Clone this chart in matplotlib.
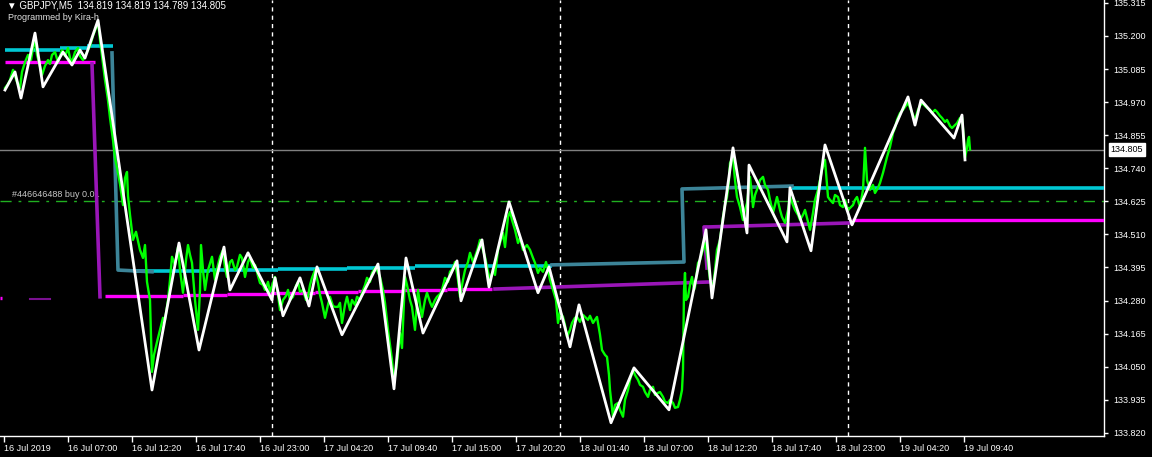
import numpy as np
import pandas as pd
import matplotlib
matplotlib.use('Agg')
import matplotlib.pyplot as plt

# GBPJPY M5, bar 0 = 16 Jul 2019 01:40
start = pd.Timestamp('2019-07-16 01:40')
n_bars_view = 1100

# close prices (bar index, price)
close_idx = [1, 4, 6, 9, 11, 13, 16, 18, 21, 24, 27, 29, 31, 33, 35, 38, 41, 44, 46, 48, 51, 54, 56, 58, 61, 64, 66, 68,
             71, 74, 76, 79, 82, 84, 86, 89, 92, 94, 96, 98, 101, 104, 106, 109, 111, 113, 116, 119, 121, 123, 124,
             126, 129, 132, 136, 139, 141, 143, 146, 148, 150, 153, 156, 159, 161, 164, 166, 168, 171, 174, 176, 179,
             182, 184, 186, 188, 191, 194, 196, 197, 199, 201, 204, 208, 211, 214, 216, 219, 221, 223, 226, 228, 231,
             233, 236, 238, 241, 244, 246, 249, 251, 254, 256, 259, 261, 264, 266, 269, 271, 274, 276, 279, 282, 284,
             286, 289, 292, 294, 296, 299, 302, 304, 306, 308, 311, 314, 316, 318, 321, 324, 326, 329, 331, 334, 336,
             338, 341, 343, 346, 348, 351, 353, 356, 358, 361, 363, 366, 368, 371, 373, 376, 379, 381, 384, 386, 388,
             390, 393, 396, 398, 401, 403, 404, 406, 408, 411, 414, 416, 418, 421, 423, 426, 428, 431, 433, 436, 438,
             441, 444, 446, 449, 451, 454, 456, 459, 461, 464, 466, 469, 471, 474, 476, 479, 481, 484, 486, 489, 491,
             494, 496, 499, 501, 504, 506, 508, 511, 514, 516, 519, 523, 526, 529, 531, 534, 536, 539, 542, 544, 546,
             549, 552, 554, 556, 559, 561, 563, 566, 568, 571, 573, 576, 579, 582, 584, 586, 589, 591, 593, 596, 598,
             601, 603, 605, 606, 609, 611, 614, 616, 619, 621, 624, 626, 629, 631, 634, 636, 639, 641, 644, 646, 649,
             651, 654, 656, 659, 661, 664, 666, 669, 671, 674, 676, 678, 679, 680, 681, 682, 684, 686, 688, 690, 691,
             694, 696, 698, 701, 703, 704, 706, 709, 711, 713, 716, 719, 721, 723, 725, 726, 729, 731, 733, 736, 739,
             741, 743, 746, 748, 749, 751, 754, 756, 759, 761, 764, 766, 769, 771, 773, 776, 778, 781, 784, 786, 789,
             791, 794, 796, 799, 801, 804, 806, 809, 811, 814, 816, 818, 821, 824, 826, 829, 831, 834, 836, 839, 841,
             844, 846, 849, 851, 853, 856, 859, 861, 863, 866, 869, 871, 874, 876, 879, 881, 883, 886, 889, 891, 893,
             896, 899, 901, 904, 906, 908, 911, 914, 916, 918, 921, 923, 926, 928, 931, 933, 936, 938, 941, 943, 946,
             948, 951, 953, 956, 958, 960, 961, 963, 964, 965, 966]
close_px = [135.019, 135.033, 135.047, 135.082, 135.061, 135.040, 135.019, 135.075, 135.109, 135.134, 135.116, 135.158,
            135.186, 135.134, 135.109, 135.064, 135.096, 135.116, 135.103, 135.134, 135.144, 135.109, 135.130, 135.151,
            135.130, 135.158, 135.123, 135.109, 135.144, 135.158, 135.130, 135.116, 135.137, 135.151, 135.165, 135.200,
            135.228, 135.249, 135.186, 135.130, 135.047, 134.977, 134.915, 134.838, 134.776, 134.741, 134.685, 134.612,
            134.706, 134.727, 134.644, 134.578, 134.491, 134.519, 134.456, 134.428, 134.473, 134.345, 134.282, 134.032,
            134.091, 134.136, 134.178, 134.220, 134.213, 134.282, 134.352, 134.432, 134.404, 134.466, 134.386, 134.307,
            134.421, 134.473, 134.439, 134.411, 134.282, 134.178, 134.317, 134.473, 134.386, 134.317, 134.386, 134.432,
            134.352, 134.404, 134.432, 134.456, 134.393, 134.362, 134.414, 134.421, 134.386, 134.397, 134.439, 134.428,
            134.362, 134.414, 134.428, 134.393, 134.404, 134.366, 134.341, 134.334, 134.317, 134.345, 134.310, 134.341,
            134.362, 134.300, 134.247, 134.282, 134.296, 134.317, 134.282, 134.293, 134.331, 134.345, 134.310, 134.317,
            134.282, 134.293, 134.334, 134.359, 134.386, 134.341, 134.300, 134.272, 134.220, 134.265, 134.293, 134.261,
            134.258, 134.258, 134.272, 134.202, 134.265, 134.293, 134.247, 134.282, 134.265, 134.293, 134.282, 134.307,
            134.334, 134.359, 134.345, 134.376, 134.393, 134.386, 134.362, 134.317, 134.272, 134.178, 134.126, 134.074,
            133.994, 134.063, 134.167, 134.115, 134.362, 134.334, 134.317, 134.282, 134.258, 134.178, 134.317, 134.265,
            134.223, 134.282, 134.307, 134.275, 134.258, 134.282, 134.293, 134.303, 134.317, 134.359, 134.345, 134.380,
            134.393, 134.414, 134.352, 134.293, 134.352, 134.386, 134.414, 134.446, 134.414, 134.432, 134.463, 134.491,
            134.456, 134.432, 134.380, 134.352, 134.386, 134.369, 134.456, 134.480, 134.515, 134.466, 134.571, 134.588,
            134.560, 134.526, 134.480, 134.498, 134.456, 134.473, 134.456, 134.428, 134.411, 134.376, 134.393, 134.380,
            134.414, 134.386, 134.352, 134.317, 134.282, 134.202, 134.240, 134.223, 134.195, 134.154, 134.178, 134.202,
            134.220, 134.223, 134.206, 134.230, 134.220, 134.213, 134.227, 134.202, 134.213, 134.223, 134.161, 134.108,
            134.091, 134.084, 134.021, 133.969, 133.876, 133.917, 133.924, 133.900, 133.876, 133.935, 133.969, 134.004,
            134.039, 134.021, 134.004, 133.987, 133.980, 133.962, 133.945, 133.969, 133.980, 133.952, 133.959, 133.962,
            133.945, 133.928, 133.924, 133.935, 133.924, 133.907, 133.910, 133.935, 133.969, 134.039, 134.317, 134.376,
            134.282, 134.293, 134.334, 134.362, 134.317, 134.327, 134.411, 134.421, 134.446, 134.480, 134.439, 134.411,
            134.352, 134.327, 134.386, 134.456, 134.491, 134.571, 134.612, 134.640, 134.699, 134.758, 134.779, 134.699,
            134.640, 134.605, 134.560, 134.595, 134.619, 134.710, 134.647, 134.605, 134.647, 134.675, 134.699, 134.710,
            134.682, 134.665, 134.630, 134.585, 134.612, 134.640, 134.595, 134.571, 134.550, 134.595, 134.640, 134.612,
            134.595, 134.578, 134.560, 134.578, 134.595, 134.553, 134.526, 134.585, 134.630, 134.665, 134.699, 134.734,
            134.769, 134.640, 134.630, 134.619, 134.647, 134.640, 134.612, 134.605, 134.630, 134.595, 134.602, 134.612,
            134.630, 134.640, 134.605, 134.665, 134.811, 134.699, 134.665, 134.682, 134.654, 134.672, 134.689, 134.724,
            134.751, 134.779, 134.814, 134.863, 134.880, 134.908, 134.932, 134.943, 134.953, 134.967, 134.950, 134.932,
            134.908, 134.943, 134.957, 134.967, 134.957, 134.950, 134.943, 134.932, 134.943, 134.936, 134.922, 134.915,
            134.901, 134.908, 134.887, 134.880, 134.890, 134.897, 134.915, 134.918, 134.838, 134.776, 134.811, 134.838,
            134.849, 134.805]

# zigzag swing points
zz_idx = [1, 11, 17, 31, 39, 59, 68, 76, 81, 94, 148, 175, 195, 220, 226, 244, 268, 271, 279, 296, 305, 313, 338,
          374, 390, 402, 419, 453, 457, 478, 485, 505, 534, 545, 566, 575, 607, 630, 665, 702, 708, 729, 743, 745,
          783, 786, 807, 821, 848, 904, 911, 917, 950, 958, 961]
zz_px = [135.012, 135.075, 134.984, 135.210, 135.023, 135.144, 135.099, 135.151, 135.123, 135.255, 133.969, 134.480,
         134.108, 134.466, 134.317, 134.446, 134.282, 134.359, 134.227, 134.359, 134.261, 134.397, 134.161, 134.407,
         133.973, 134.428, 134.167, 134.418, 134.279, 134.491, 134.327, 134.623, 134.307, 134.397, 134.119, 134.265,
         133.855, 134.046, 133.900, 134.526, 134.289, 134.811, 134.515, 134.751, 134.484, 134.672, 134.453, 134.821,
         134.543, 134.988, 134.890, 134.977, 134.845, 134.925, 134.769]

# resistance level (cyan = fixed levels, steel = moving part)
res_segs = [(1, 56, 135.151), (56, 83, 135.157), (83, 109, 135.165),
            (129, 206, 134.383), (206, 274, 134.386), (274, 343, 134.390), (343, 411, 134.393),
            (411, 548, 134.399), (788, 1100, 134.672)]
res_move_a_idx = [108, 114, 148]
res_move_a_px = [135.141, 134.386, 134.380]
res_move_b_idx = [548, 680, 678, 788]
res_move_b_px = [134.404, 134.414, 134.668, 134.678]

# support level (magenta = fixed levels, purple = moving part)
sup_segs = [(1, 91, 135.109), (101, 179, 134.296), (179, 223, 134.300), (223, 266, 134.303),
            (266, 311, 134.307), (311, 354, 134.310), (354, 399, 134.314), (399, 443, 134.317),
            (443, 488, 134.320), (848, 1100, 134.560), (-4, -2, 134.289)]
sup_move_a_idx = [88, 96]
sup_move_a_px = [135.103, 134.293]
sup_move_b_idx = [491, 709]
sup_move_b_px = [134.320, 134.345]
sup_move_c_idx = [703, 700, 705, 848]
sup_move_c_px = [134.393, 134.536, 134.536, 134.550]
sup_old_seg = (26, 46, 134.286)

bid = 134.805
order_price = 134.627
order_text = '#446646488 buy 0.01'
header = '\u25bc GBPJPY,M5  134.819 134.819 134.789 134.805'
y_lo, y_hi = 133.809, 135.325
y_ticks = [133.820 + 0.115 * k for k in range(14)]

plt.rcParams['font.family'] = ['Liberation Sans', 'DejaVu Sans']

fig = plt.figure(figsize=(11.52, 4.57), dpi=100, facecolor='black')
ax = fig.add_axes([0, 21 / 457, 1104 / 1152, 436 / 457], facecolor='black')

# day separators
times = start + pd.to_timedelta(np.arange(n_bars_view) * 5, unit='min')
days = times.normalize()
sep = np.where(days[1:] != days[:-1])[0] + 1
for s in sep:
    ax.axvline(s, color='white', lw=1, ls=(0, (3, 3)), zorder=1)

ax.axhline(bid, color='#808080', lw=1, zorder=1)
ax.axhline(order_price, color='#20b020', lw=1, ls=(0, (8, 5, 2, 5)), zorder=1)
ax.text(8, order_price + 0.006, order_text, color='#c8c8c8', fontsize=6.5, va='bottom', ha='left')

for i0, i1, p in res_segs:
    ax.plot([i0, i1], [p, p], color='#00c8d4', lw=2.6, solid_capstyle='butt', zorder=3)
ax.plot(res_move_a_idx, res_move_a_px, color='#3c8498', lw=2.6, zorder=3)
ax.plot(res_move_b_idx, res_move_b_px, color='#3c8498', lw=2.6, zorder=3)

for i0, i1, p in sup_segs:
    ax.plot([i0, i1], [p, p], color='#ff00ff', lw=2.4, solid_capstyle='butt', zorder=3)
ax.plot([sup_old_seg[0], sup_old_seg[1]], [sup_old_seg[2]] * 2, color='#7a1090', lw=1.5, zorder=3)
for xs, ys in [(sup_move_a_idx, sup_move_a_px), (sup_move_b_idx, sup_move_b_px), (sup_move_c_idx, sup_move_c_px)]:
    ax.plot(xs, ys, color='#9a16b8', lw=2.6, zorder=3)

ax.plot(close_idx, close_px, color='#00ff00', lw=1.7, zorder=4)
ax.plot(zz_idx, zz_px, color='white', lw=2, zorder=5)

ax.set_xlim(-4, 1100)
ax.set_ylim(y_lo, y_hi)

# time axis every 64 bars
xt = np.arange(0, 961, 64)
xl = [times[0].strftime('%d %b %Y')] + [times[i].strftime('%d %b %H:%M') for i in xt[1:]]
ax.set_xticks(xt)
ax.set_xticklabels(xl, ha='left', fontsize=6.5, color='white')
ax.tick_params(axis='x', direction='out', length=4, width=1, color='white', pad=2)

ax.yaxis.tick_right()
ax.set_yticks(y_ticks)
ax.set_yticklabels(['%.3f' % t for t in y_ticks], fontsize=6.5, color='white')
ax.tick_params(axis='y', direction='out', length=3, width=1, color='white', pad=4)

for side in ['top', 'left']:
    ax.spines[side].set_visible(False)
for side in ['bottom', 'right']:
    ax.spines[side].set_color('white')
    ax.spines[side].set_linewidth(1)

ax.text(1.006, bid, '%.3f' % bid, transform=ax.get_yaxis_transform(), fontsize=6.5, color='black',
        va='center', ha='left', bbox=dict(boxstyle='square,pad=0.18', fc='white', ec='white'))

fig.text(7 / 1152, 1 - 5 / 457, header, color='white', fontsize=7, va='center', ha='left')
fig.text(8 / 1152, 1 - 17 / 457, 'Programmed by Kira-h', color='#e0e0e0', fontsize=6.5, va='center', ha='left')

fig.savefig('out.png', dpi=100, facecolor='black')
